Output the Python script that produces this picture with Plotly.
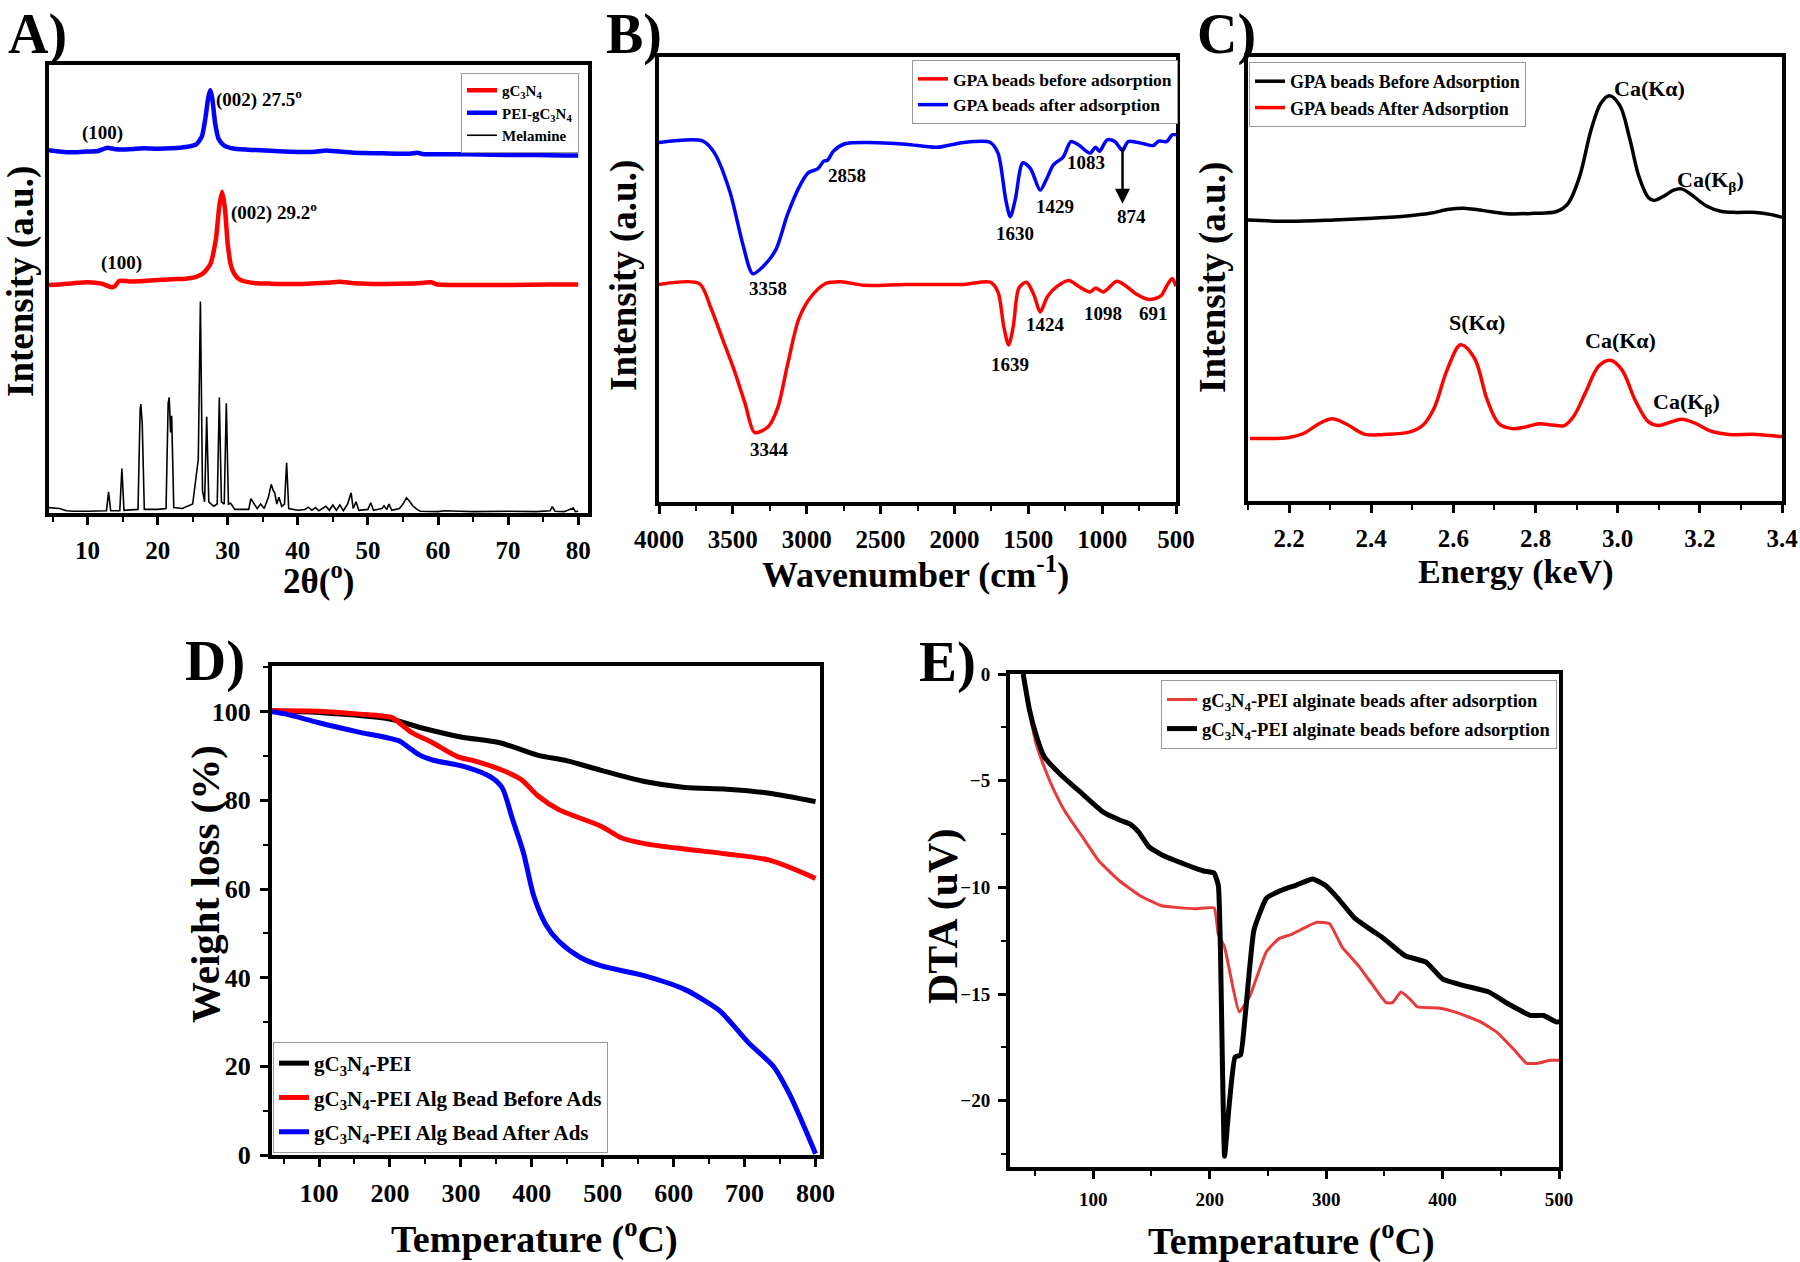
import plotly.graph_objects as go

W, H = 1800, 1262
FONT = "Liberation Serif"

# ---------------- Panel A : XRD ----------------
a_mel_x = [4.5, 6, 7, 8, 10, 12, 12.7, 13.0, 13.3, 14.6, 14.9, 15.2, 17.2, 17.5, 17.6, 17.8, 18.1, 20, 21.2, 21.5,
           21.65, 21.85, 22.0, 22.3, 23.5, 25.0, 25.5, 25.8, 26.1, 26.4, 26.7, 27.0, 27.3, 28.0, 28.5, 28.8, 29.1,
           29.5, 29.8, 30.1, 30.4, 31, 33, 33.3, 33.7, 34.2, 34.7, 35.2, 35.8, 36.2, 36.5, 36.7, 37.0, 37.3, 37.7,
           38.1, 38.4, 38.7, 40, 41, 41.5, 42, 42.5, 43, 44, 44.5, 45, 45.5, 46, 46.5, 47.1, 47.6, 47.9, 48.3, 48.7,
           50.0, 50.4, 50.8, 52, 52.3, 52.7, 53.0, 53.4, 54.5, 55.0, 55.5, 56, 56.4, 57, 57.5, 60, 61, 63, 65, 70,
           74, 76, 76.3, 76.7, 78, 79.3, 79.6, 80]
a_mel_y = [1.2, 1.0, 0.5, 0.4, 0.4, 0.4, 0.5, 4.7, 0.5, 0.5, 9.9, 0.6, 0.8, 23.0, 24.3, 20.0, 0.8, 0.8, 1.0, 24.5,
           25.8, 18.0, 21.7, 1.2, 1.0, 2.0, 7.7, 12.0, 47.2, 5.0, 2.5, 21.5, 2.5, 1.5, 2.0, 25.8, 2.5,
           2.0, 24.5, 2.0, 2.2, 0.8, 0.8, 3.2, 2.2, 1.0, 2.0, 1.0, 3.5, 6.4, 5.0, 4.5, 2.0, 3.5, 1.5,
           2.0, 11.2, 1.0, 0.6, 0.8, 1.3, 0.6, 1.2, 0.5, 1.5, 0.6, 1.8, 0.6, 1.8, 0.5, 2.0, 4.5, 1.0, 2.5, 0.6,
           0.8, 2.3, 0.6, 1.0, 1.6, 0.8, 2.0, 0.6, 1.0, 2.0, 3.4, 2.5, 1.6, 0.8, 0.4, 0.3, 0.5, 0.4, 0.3, 0.4,
           0.3, 0.5, 1.4, 0.4, 0.3, 1.1, 0.3, 0.4]
a_g_x = [4.5, 6, 8, 10, 12, 13.5, 14.0, 14.5, 16, 18, 20, 22, 24, 25.5, 26.5, 27.5, 28.3, 28.8, 29.2, 29.6, 30.0,
         30.5, 31.2, 32, 34, 36, 40, 44, 46, 48, 52, 56, 58, 59, 60, 64, 70, 76, 80]
a_g_y = [50.9, 51.0, 51.3, 51.5, 51.2, 50.4, 50.8, 51.8, 51.7, 51.8, 52.0, 52.2, 52.3, 52.7, 53.5, 55.5, 61.0, 68.5,
         71.7, 68.0, 60.0, 55.0, 52.8, 51.9, 51.3, 51.2, 51.1, 51.4, 51.6, 51.3, 51.1, 51.2, 51.4, 51.5, 51.0,
         50.9, 50.9, 51.0, 51.0]
a_p_x = [4.5, 6, 8, 10, 11.5, 12.5, 13, 14, 16, 18, 20, 22, 24, 25.5, 26.3, 26.8, 27.2, 27.5, 27.8, 28.2, 28.7,
         29.5, 31, 34, 38, 42, 44, 45, 48, 52, 56, 57, 58, 62, 66, 70, 74, 78, 80]
a_p_y = [81.0, 80.7, 80.5, 80.7, 80.8, 81.4, 81.5, 81.2, 81.2, 81.4, 81.3, 81.4, 81.7, 82.3, 84.0, 88.0, 92.5, 94.4,
         92.5, 87.0, 83.5, 82.0, 81.3, 81.0, 80.7, 80.6, 80.9, 80.8, 80.4, 80.3, 80.2, 80.4, 80.1, 80.1, 80.0,
         79.9, 79.9, 79.8, 79.8]
a_labels = [("(100)", 12.1, 84.8), ("(002) 27.5<sup>o</sup>", 28.0, 92.6), ("(100)", 14.9, 55.8),
            ("(002) 29.2<sup>o</sup>", 30.2, 67.4)]

# ---------------- Panel B : FTIR ----------------
b_after_x = [4000, 3702, 3624, 3520, 3430, 3365, 3287, 3209, 3131, 3054, 2989, 2924, 2885, 2859, 2820, 2742, 2587,
             2328, 2120, 1939, 1757, 1705, 1653, 1622, 1588, 1537, 1485, 1420, 1380, 1329, 1264, 1212, 1161, 1083,
             1044, 1018, 966, 914, 862, 824, 720, 655, 616, 564, 526, 500]
b_after_y = [80.8, 81.1, 78.4, 69.7, 57.6, 51.3, 53.2, 56.7, 64.5, 70.6, 74.0, 74.9, 76.6, 76.8, 78.8, 80.5, 80.8,
             80.4, 79.7, 80.8, 80.8, 78.4, 68.0, 64.1, 68.0, 76.2, 74.9, 70.1, 72.3, 75.8, 77.5, 81.0, 80.3, 78.4,
             79.7, 78.8, 81.4, 81.0, 79.0, 81.0, 80.5, 80.1, 81.1, 81.0, 82.5, 82.5]
b_before_x = [4000, 3728, 3650, 3572, 3494, 3417, 3352, 3261, 3196, 3131, 3054, 2976, 2872, 2768, 2613, 2328, 1939,
              1757, 1705, 1666, 1633, 1602, 1563, 1511, 1459, 1420, 1368, 1303, 1225, 1161, 1083, 1044, 992, 901,
              837, 772, 681, 603, 564, 526, 500]
b_before_y = [48.9, 49.1, 43.7, 36.8, 29.9, 22.1, 15.6, 16.9, 21.2, 30.7, 41.1, 45.9, 49.1, 49.5, 48.7, 48.9, 48.9,
              49.4, 47.2, 39.4, 35.3, 39.4, 48.1, 49.4, 46.3, 42.7, 46.3, 48.5, 49.8, 48.5, 47.2, 48.1, 47.2, 49.6,
              48.5, 46.8, 45.5, 46.3, 48.5, 50.2, 48.5]
b_labels = [("3358", 3262, 48.0), ("2858", 2724, 73.3), ("1630", 1589, 60.4), ("1429", 1316, 66.4),
            ("1083", 1109, 76.2), ("874", 803, 64.1), ("3344", 3250, 11.8), ("1639", 1627, 30.8),
            ("1424", 1381, 39.8), ("1098", 992, 42.4), ("691", 650, 42.4)]

# ---------------- Panel C : EDS ----------------
c_before_x = [2.1, 2.2, 2.31, 2.403, 2.487, 2.543, 2.59, 2.632, 2.674, 2.73, 2.795, 2.851, 2.879, 2.907, 2.935,
              2.959, 2.98, 3.005, 3.029, 3.052, 3.075, 3.089, 3.113, 3.136, 3.155, 3.178, 3.215, 3.253, 3.29,
              3.337, 3.374, 3.4]
c_before_y = [63.3, 63.0, 63.3, 63.7, 64.2, 64.8, 65.7, 65.9, 65.4, 64.7, 64.8, 65.2, 67.0, 73.0, 83.5, 89.6,
              91.3, 89.1, 81.7, 73.0, 68.3, 67.7, 68.7, 70.0, 70.3, 69.1, 66.5, 65.2, 65.0, 65.0, 64.5, 63.9]
c_after_x = [2.105, 2.2, 2.235, 2.273, 2.305, 2.338, 2.385, 2.431, 2.492, 2.525, 2.553, 2.585, 2.618, 2.651, 2.683,
             2.711, 2.744, 2.777, 2.809, 2.842, 2.87, 2.893, 2.921, 2.954, 2.982, 3.01, 3.043, 3.075, 3.099, 3.127,
             3.155, 3.187, 3.225, 3.271, 3.337, 3.4]
c_after_y = [14.1, 14.3, 15.2, 17.4, 18.5, 17.4, 15.0, 15.0, 15.5, 17.0, 20.9, 29.6, 35.2, 32.2, 22.6, 17.4,
             16.3, 16.7, 17.4, 17.1, 17.0, 19.1, 24.3, 30.4, 31.7, 29.6, 22.6, 17.8, 17.0, 17.7, 18.4, 17.6,
             15.8, 15.0, 15.0, 14.5]
c_labels = [("Ca(K\u03b1)", 3.077, 93.0), ("Ca(K<sub>\u03b2</sub>)", 3.226, 72.0), ("S(K\u03b1)", 2.657, 40.2),
            ("Ca(K\u03b1)", 3.008, 36.1), ("Ca(K<sub>\u03b2</sub>)", 3.167, 22.0)]

# ---------------- Panel D : TGA ----------------
d_pei_x = [34, 100, 200.8, 248, 300, 355, 408, 450, 497, 557, 616, 675, 735, 800]
d_pei_y = [100.2, 99.8, 98.3, 96.2, 94.3, 93.0, 90.2, 88.9, 86.8, 84.3, 82.9, 82.5, 81.6, 79.7]
d_before_x = [34, 100, 153, 204, 213, 230.5, 260, 296, 319, 355, 385, 408, 438, 497, 527, 557, 616, 675, 735, 800]
d_before_y = [100.2, 100.1, 99.5, 98.6, 97.5, 95.3, 93.0, 89.8, 88.9, 87.0, 84.7, 81.1, 77.9, 74.2, 71.5, 70.3,
              69.0, 67.9, 66.5, 62.4]
d_after_x = [34, 52.5, 100, 153, 213, 225, 242, 260, 307.6, 343, 358, 373, 388, 403, 420, 438, 468, 497, 557, 616,
             663.6, 675, 705, 741, 764, 782, 800]
d_after_y = [100.0, 99.5, 97.5, 95.5, 93.4, 92.1, 90.2, 89.1, 87.5, 85.2, 82.9, 75.6, 68.3, 58.3, 51.9, 48.2, 44.6,
             42.7, 40.5, 37.3, 32.7, 30.9, 25.4, 19.9, 13.5, 7.1, 0.3]

# ---------------- Panel E : DTA ----------------
e_after_x = [39.8, 43.4, 50.6, 57.8, 65, 75.9, 90.3, 104.7, 122.7, 140.7, 158.7, 187.6, 203.8, 207.4, 212.8, 220,
             225.4, 234.4, 248.8, 259.6, 270.4, 281.2, 292, 303, 313.8, 328.2, 339, 351.6, 357, 364.2, 371.4,
             378.6, 396.6, 411, 432.6, 447, 461.4, 472.2, 482, 492, 500]
e_after_y = [0.0, -1.3, -3.2, -4.35, -5.3, -6.45, -7.6, -8.75, -9.7, -10.4, -10.86, -11.0, -10.96, -12.2, -12.8,
             -14.7, -15.84, -15.1, -13.0, -12.4, -12.2, -11.9, -11.63, -11.7, -12.8, -13.7, -14.5, -15.4, -15.4,
             -14.9, -15.2, -15.6, -15.65, -15.84, -16.3, -16.8, -17.6, -18.24, -18.24, -18.1, -18.1]
e_before_x = [39.8, 45.2, 50.6, 57.8, 72.3, 90.3, 108.3, 122.7, 131.7, 138.9, 147.9, 158.7, 180.3, 194.8, 203.8,
              207.4, 209.2, 211, 212.8, 216.4, 221.8, 226.5, 230.8, 238, 248.8, 263.2, 274, 288.5, 299.3, 310,
              324.5, 338.9, 349.7, 367.7, 385.8, 400.2, 418.2, 439.8, 457.8, 475.8, 486.7, 497.5, 500]
e_before_y = [0.0, -1.67, -2.8, -3.87, -4.73, -5.6, -6.46, -6.84, -7.03, -7.4, -8.1, -8.47, -8.95, -9.23, -9.33,
              -9.9, -12.8, -18.5, -22.6, -20.4, -17.95, -17.85, -15.84, -12.0, -10.5, -10.1, -9.9, -9.6, -9.9,
              -10.5, -11.44, -12.0, -12.4, -13.2, -13.5, -14.3, -14.6, -14.9, -15.5, -16.0, -16.0, -16.3, -16.3]

GC = "gC<sub>3</sub>N<sub>4</sub>"


def px(x):
    return x / W


def py(y):
    return 1 - y / H


fig = go.Figure()


def line(x, y, name, color, width, xa, ya, leg, shape="linear", smooth=1.0):
    kw = dict(shape=shape)
    if shape == "spline":
        kw["smoothing"] = smooth
    fig.add_trace(go.Scatter(x=x, y=y, mode="lines", name=name, line=dict(color=color, width=width, **kw),
                             xaxis=xa, yaxis=ya, legend=leg, legendgroup=leg + name))


# A
line(a_g_x, a_g_y, GC, "#ff0000", 4.5, "x", "y", "legend", "spline", 0.6)
line(a_p_x, a_p_y, "PEI-" + GC, "#0000ff", 4.5, "x", "y", "legend", "spline", 0.6)
line(a_mel_x, a_mel_y, "Melamine", "#000000", 1.6, "x", "y", "legend")
# B
line(b_before_x, b_before_y, "GPA beads before adsorption", "#ff0000", 3.5, "x2", "y2", "legend2", "spline", 0.8)
line(b_after_x, b_after_y, "GPA beads after adsorption", "#0000ff", 3.5, "x2", "y2", "legend2", "spline", 0.8)
# C
line(c_before_x, c_before_y, "GPA beads Before Adsorption", "#000000", 3.5, "x3", "y3", "legend3", "spline", 1.0)
line(c_after_x, c_after_y, "GPA beads After Adsorption", "#ff0000", 3.5, "x3", "y3", "legend3", "spline", 1.0)
# D
line(d_pei_x, d_pei_y, GC + "-PEI", "#000000", 5, "x4", "y4", "legend4", "spline", 0.8)
line(d_before_x, d_before_y, GC + "-PEI Alg Bead Before Ads", "#ff0000", 5, "x4", "y4", "legend4", "spline", 0.8)
line(d_after_x, d_after_y, GC + "-PEI Alg Bead After Ads", "#0000ff", 5, "x4", "y4", "legend4", "spline", 0.8)
# E
line(e_after_x, e_after_y, GC + "-PEI alginate beads after adsorption", "#e83b3b", 3, "x5", "y5", "legend5",
     "spline", 0.4)
line(e_before_x, e_before_y, GC + "-PEI alginate beads before adsorption", "#000000", 5, "x5", "y5", "legend5",
     "spline", 0.4)


def axis(dom, rng, dtick=None, minor=None, labels=True, size=25, anchor=None, tick0=None, fmt=None):
    d = dict(domain=dom, range=rng, showline=True, mirror=True, linecolor="black", linewidth=4,
             showgrid=False, zeroline=False, anchor=anchor, fixedrange=True, automargin=False)
    if dtick is None:
        d.update(ticks="", showticklabels=False)
    else:
        d.update(ticks="outside", ticklen=8, tickwidth=3, tickcolor="black", dtick=dtick,
                 showticklabels=labels, ticklabelstandoff=4,
                 tickfont=dict(family=FONT, size=size, color="black", weight="bold"))
        if tick0 is not None:
            d["tick0"] = tick0
        if fmt:
            d["tickformat"] = fmt
        if minor:
            d["minor"] = dict(ticks="outside", ticklen=5, tickwidth=2, tickcolor="black", dtick=minor)
    return d


layout = dict(
    width=W, height=H, autosize=False,
    margin=dict(l=0, r=0, t=0, b=0, pad=0, autoexpand=False),
    paper_bgcolor="white", plot_bgcolor="white",
    xaxis=axis([px(49), px(588)], [4.5, 81.4], 10, 5, anchor="y", tick0=0),
    yaxis=axis([py(513), py(65)], [0, 100], anchor="x"),
    xaxis2=axis([px(659), px(1176)], [4000, 500], 500, 250, anchor="y2", tick0=0),
    yaxis2=axis([py(502), py(57)], [0, 100], anchor="x2"),
    xaxis3=axis([px(1248), px(1782)], [2.1, 3.4], 0.2, 0.1, anchor="y3", tick0=0, fmt=".1f"),
    yaxis3=axis([py(501), py(57)], [0, 100], anchor="x3"),
    xaxis4=axis([px(272), px(820)], [33.7, 806.3], 100, 50, size=26, anchor="y4", tick0=0),
    yaxis4=axis([py(1155), py(666)], [0, 110.3], 20, 10, size=26, anchor="x4", tick0=0),
    xaxis5=axis([px(1010), px(1559)], [28.5, 500], 100, 50, size=19, anchor="y5", tick0=0),
    yaxis5=axis([py(1167), py(674)], [-23.1, 0], 5, 2.5, size=19, anchor="x5", tick0=0),
    showlegend=True,
)


def legend(x, y, xa, ya, size, gap=0):
    return dict(x=x, y=y, xanchor=xa, yanchor=ya, xref="paper", yref="paper", bgcolor="white",
                bordercolor="#999999", borderwidth=1, font=dict(family=FONT, size=size, color="black",
                                                                 weight="bold"),
                tracegroupgap=gap, itemclick=False)


layout["legend"] = legend(px(579), py(73), "right", "top", 15)
layout["legend2"] = legend(px(1178), py(60), "right", "top", 17.5)
layout["legend3"] = legend(px(1249), py(62), "left", "top", 18)
layout["legend4"] = legend(px(273), py(1153), "left", "bottom", 21, 4)
layout["legend5"] = legend(px(1557), py(680), "right", "top", 18.5, 2)
fig.update_layout(**layout)

ann = []


def txt(t, x, y, size, xref="paper", yref="paper", angle=0, xanchor="center"):
    ann.append(dict(text=t, x=x, y=y, xref=xref, yref=yref, showarrow=False, textangle=angle, xanchor=xanchor,
                    yanchor="middle", font=dict(family=FONT, size=size, color="black", weight="bold")))


for t, x, y in a_labels:
    txt(t, x, y, 19, "x", "y", xanchor="left" if "002" in t else "center")
for t, x, y in b_labels:
    txt(t, x, y, 19, "x2", "y2")
for t, x, y in c_labels:
    txt(t, x, y, 22, "x3", "y3")

ann.append(dict(x=862, y=67.0, ax=862, ay=80.0, xref="x2", yref="y2", axref="x2", ayref="y2", text="",
                showarrow=True, arrowhead=2, arrowsize=1.2, arrowwidth=2.5, arrowcolor="black"))

# panel letters
txt("A)", px(37), py(35), 56)
txt("B)", px(634), py(35), 56)
txt("C)", px(1226), py(35), 56)
txt("D)", px(215), py(661), 57)
txt("E)", px(948), py(662), 57)

# axis titles
txt("Intensity (a.u.)", px(21), py(282), 37, angle=-90)
txt("2\u03b8(<sup>o</sup>)", px(318), py(578), 35)
txt("Intensity (a.u.)", px(624), py(276), 37, angle=-90)
txt("Wavenumber (cm<sup>-1</sup>)", px(916), py(572), 36)
txt("Intensity (a.u.)", px(1213), py(278), 37, angle=-90)
txt("Energy (keV)", px(1515), py(572), 34)
txt("Weight loss (%)", px(205), py(884), 41, angle=-90)
txt("Temperature (<sup>o</sup>C)", px(534), py(1236), 38)
txt("DTA (uV)", px(943), py(916), 42, angle=-90)
txt("Temperature (<sup>o</sup>C)", px(1291), py(1238), 38)

fig.update_layout(annotations=ann)
fig.write_html("out.html", config={"displayModeBar": False},
               post_script="document.body.style.margin='0px';document.body.style.overflow='hidden';")
